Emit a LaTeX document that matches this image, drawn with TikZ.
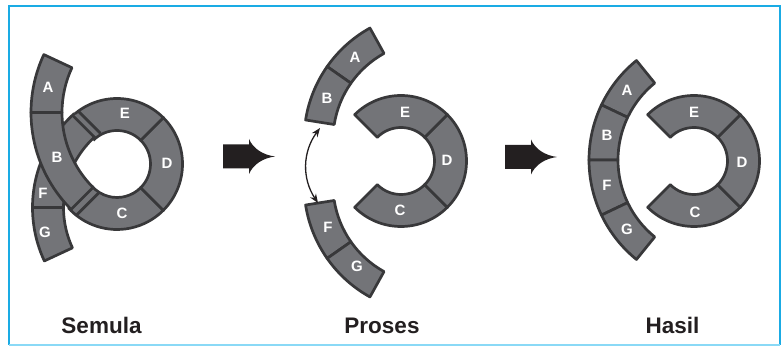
\documentclass[tikz,border=0pt]{standalone}
\usepackage{fontspec}
\setmainfont{Liberation Sans}
\usetikzlibrary{calc,arrows.meta}
\definecolor{segfill}{HTML}{737478}
\definecolor{segline}{HTML}{38383A}
\definecolor{framecol}{HTML}{1AABE4}
\definecolor{framelight}{HTML}{8AD9F6}
\definecolor{inkblack}{HTML}{231F20}
% closed annular piece: center, a1, a2, rin, rout
\newcommand\segpiece[5]{\filldraw[seg] ($(#1)+(#2:#5)$) arc[start angle=#2,end angle=#3,radius=#5] -- ($(#1)+(#3:#4)$) arc[start angle=#3,end angle=#2,radius=#4] -- cycle;}
% piece left open (unstroked) at its a1 end
\newcommand\segopen[5]{\filldraw[seg] ($(#1)+(#2:#5)$) arc[start angle=#2,end angle=#3,radius=#5] -- ($(#1)+(#3:#4)$) arc[start angle=#3,end angle=#2,radius=#4];}
\tikzset{
  seg/.style={fill=segfill,draw=segline,line width=2.7pt,line join=round},
  sepline/.style={draw=segline,line width=2.7pt},
  letter/.style={text=white,font=\fontsize{15}{15}\selectfont\bfseries,inner sep=0pt},
  caption/.style={text=inkblack,font=\fontsize{22.5}{22.5}\selectfont\bfseries,inner sep=0pt,anchor=base},
  dblarrow/.style={draw=inkblack,line width=1.3pt,{Stealth[length=9pt,width=7pt]}-{Stealth[length=9pt,width=7pt]}},
  bigarrow/.pic={\fill[inkblack] (0,-12) -- (26,-12) -- (26,-17.5) .. controls (30,-8) and (40,-1.5) .. (52,0) .. controls (40,1.5) and (30,8) .. (26,17.5) -- (26,12) -- (0,12) -- cycle;}
}
\begin{document}
\begin{tikzpicture}[x=1pt,y=1pt]
\useasboundingbox (0,0) rectangle (784,347);
\fill[white] (0,0) rectangle (784,347);
% frame
\draw[framecol,line width=2pt] (9,2) -- (9,341) -- (780,341) -- (780,2);
\draw[framelight,line width=2pt] (9,2) -- (780,2);

% ---------- Semula ----------
\coordinate (sRing) at (117,183);
\coordinate (sAB) at (168,234.5);
\coordinate (sFG) at (159,139.5);
\segopen{sRing}{-138}{-45}{33.5}{65.5}
\segpiece{sRing}{-45}{45}{33.5}{65.5}
\segopen{sRing}{135}{45}{33.5}{65.5}
\segopen{sFG}{132}{180}{95.5}{126.5}
\segpiece{sFG}{180}{205}{95.5}{126.5}
\draw[sepline] ($(sRing)+(135:65.5)+(45:3)$) -- ($(sRing)+(135:33.5)+(45:3)$);
\draw[sepline] ($(sRing)+(135:65.5)+(45:10)$) -- ($(sRing)+(135:33.5)+(45:10)$);
\draw[sepline] ($(sRing)+(-135:65.5)+(-45:7.5)$) -- ($(sRing)+(-135:33.5)+(-45:7.5)$);
\segpiece{sAB}{155}{180}{106}{137}
\segpiece{sAB}{180}{225}{106}{137}
\node[letter] (sA) at (48,260) {A};
\node[letter] (sB) at (57,190) {B};
\node[letter] (sF) at (43,154) {F};
\node[letter] (sG) at (45,115) {G};
\node[letter] (sE) at (125,234) {E};
\node[letter] (sD) at (167,184) {D};
\node[letter] (sC) at (122,134) {C};

% ---------- arrows ----------
\pic at (223,190.5) {bigarrow};
\pic at (505,190) {bigarrow};

% ---------- Proses ----------
\coordinate (pRing) at (401,186);
\coordinate (pAB) at (432,207);
\coordinate (pFG) at (432,162);
\segpiece{pRing}{-135}{-45}{33.5}{65.5}
\segpiece{pRing}{-45}{45}{33.5}{65.5}
\segpiece{pRing}{45}{135}{33.5}{65.5}
\segpiece{pAB}{119}{145}{99}{128}
\segpiece{pAB}{145}{171}{99}{128}
\segpiece{pFG}{189}{215}{99}{128}
\segpiece{pFG}{215}{241}{99}{128}
\node[letter] (pA) at (355,290) {A};
\node[letter] (pB) at (327,249) {B};
\node[letter] (pE) at (405,235) {E};
\node[letter] (pD) at (447,187) {D};
\node[letter] (pC) at (400,137) {C};
\node[letter] (pF) at (328,120) {F};
\node[letter] (pG) at (357,81) {G};
\coordinate (arrTop) at (320,219);
\coordinate (arrBot) at (318,144);
\draw[dblarrow] (arrTop) to[bend right=35] (arrBot);

% ---------- Hasil ----------
\coordinate (hRing) at (694,186);
\coordinate (hArc) at (717,187);
\segpiece{hRing}{-135}{-45}{33.5}{65.5}
\segpiece{hRing}{-45}{45}{33.5}{65.5}
\segpiece{hRing}{45}{135}{33.5}{65.5}
\segpiece{hArc}{129}{154.5}{99}{128}
\segpiece{hArc}{154.5}{180}{99}{128}
\segpiece{hArc}{180}{205.5}{99}{128}
\segpiece{hArc}{205.5}{231}{99}{128}
\node[letter] (hA) at (627,257) {A};
\node[letter] (hB) at (607,212) {B};
\node[letter] (hF) at (607,162) {F};
\node[letter] (hG) at (627,118) {G};
\node[letter] (hE) at (694,235) {E};
\node[letter] (hD) at (742,185) {D};
\node[letter] (hC) at (695,135) {C};

% ---------- captions ----------
\node[caption] (capS) at (101.5,13) {Semula};
\node[caption] (capP) at (382,13) {Proses};
\node[caption] (capH) at (672.5,13) {Hasil};
\end{tikzpicture}
\end{document}
